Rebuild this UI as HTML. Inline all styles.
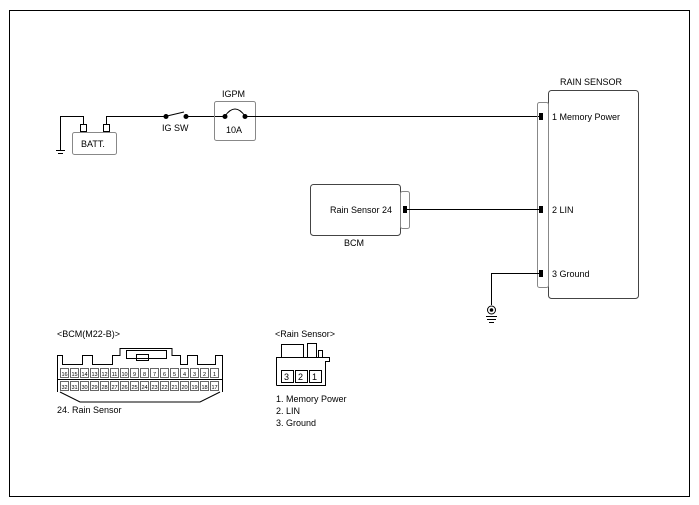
<!DOCTYPE html>
<html><head><style>body{margin:0;background:#fff}svg{display:block}text{font-family:"Liberation Sans",sans-serif;fill:#000}</style></head><body>
<svg width="699" height="505" viewBox="0 0 699 505" xmlns="http://www.w3.org/2000/svg">
<rect x="9.5" y="10.5" width="680" height="486" fill="none" stroke="#000" stroke-width="1"/>
<g stroke="#000" fill="none" stroke-width="1">
<rect x="72.5" y="132.5" width="44" height="22" rx="2" stroke="#888"/>
<rect x="80.5" y="124.5" width="6" height="7"/>
<rect x="103.5" y="124.5" width="6" height="7"/>
<polyline points="83.5,124 83.5,116.5 60.5,116.5 60.5,150"/>
<line x1="56" y1="150.5" x2="65" y2="150.5"/><line x1="58" y1="153.5" x2="63" y2="153.5"/>
<polyline points="106.5,124 106.5,116.5 166,116.5"/>
<line x1="167" y1="116" x2="184" y2="112"/>
<line x1="186" y1="116.5" x2="224" y2="116.5"/>
<rect x="214.5" y="101.5" width="41" height="39" rx="2" stroke="#888"/>
<path d="M225 116 Q235 102 245 116"/>
<line x1="245" y1="116.5" x2="541" y2="116.5"/>
<rect x="548.5" y="90.5" width="90" height="208" rx="3" stroke="#444"/>
<rect x="537.5" y="102.5" width="11" height="185" rx="2" stroke="#888"/>
<rect x="310.5" y="184.5" width="90" height="51" rx="3" stroke="#444"/>
<rect x="400.5" y="191.5" width="9" height="37" rx="2" stroke="#888"/>
<line x1="407" y1="209.5" x2="541" y2="209.5"/>
<polyline points="541,273.5 491.5,273.5 491.5,305"/>
<circle cx="491.5" cy="310" r="4"/>
<line x1="486" y1="316.5" x2="497" y2="316.5"/><line x1="487" y1="319.5" x2="496" y2="319.5"/><line x1="489" y1="322.5" x2="494" y2="322.5"/>
<path d="M57.5 392 L57.5 355.5 L62.5 355.5 L62.5 364.5 L82.5 364.5 L82.5 355.5 L92.5 355.5 L92.5 364.5 L112.5 364.5 L112.5 355.5 L120 355.5 L120 348.5 L172 348.5 L172 355.5 L180.5 355.5 L180.5 364.5 L187.5 364.5 L187.5 355.5 L197.5 355.5 L197.5 364.5 L215.5 364.5 L215.5 355.5 L222.5 355.5 L222.5 392"/>
<path d="M60 392 L80 402 L200 402 L220 392"/>
<rect x="126.5" y="350.5" width="40" height="8"/>
<rect x="136.5" y="354.5" width="12" height="6"/>
<line x1="57" y1="379.5" x2="223" y2="379.5"/>
<path d="M276.5 385.5 L276.5 357.5 L281.5 357.5 L281.5 344.5 L303.5 344.5 L303.5 357.5"/>
<path d="M307.5 357.5 L307.5 343.5 L316.5 343.5 L316.5 357.5"/>
<path d="M318.5 357.5 L318.5 350.5 L322.5 350.5 L322.5 357.5 L329.5 357.5 L329.5 361.5 L325.5 361.5 L325.5 385.5 L276.5 385.5"/>
<line x1="281.5" y1="357.5" x2="325" y2="357.5"/>
<rect x="281.5" y="370.5" width="12" height="12"/><rect x="295.5" y="370.5" width="12" height="12"/><rect x="309.5" y="370.5" width="12" height="12"/>
</g>
<g fill="#000">
<circle cx="166" cy="116.5" r="2.5"/><circle cx="186" cy="116.5" r="2.5"/>
<circle cx="225" cy="116.5" r="2.5"/><circle cx="245" cy="116.5" r="2.5"/>
<circle cx="491.5" cy="310" r="1.8"/>
<rect x="539" y="113" width="4" height="7"/><rect x="539" y="206" width="4" height="7"/><rect x="539" y="270" width="4" height="7"/>
<rect x="403" y="206" width="4" height="7"/>
</g>
<g font-size="9">
<text x="81" y="147">BATT.</text>
<text x="162" y="131">IG SW</text>
<text x="222" y="97">IGPM</text>
<text x="226" y="133">10A</text>
<text x="560" y="85">RAIN SENSOR</text>
<text x="552" y="120">1 Memory Power</text>
<text x="552" y="213">2 LIN</text>
<text x="552" y="277">3 Ground</text>
<text x="330" y="213">Rain Sensor 24</text>
<text x="344" y="246">BCM</text>
<text x="57" y="337">&lt;BCM(M22-B)&gt;</text>
<text x="57" y="413">24. Rain Sensor</text>
<text x="275" y="337">&lt;Rain Sensor&gt;</text>
<text x="276" y="402">1. Memory Power</text>
<text x="276" y="414">2. LIN</text>
<text x="276" y="426">3. Ground</text>
<text x="284" y="380">3</text><text x="298" y="380">2</text><text x="312" y="380">1</text>
</g>
<g stroke="#000" stroke-width="0.6" fill="none">
<rect x="60.5" y="368.5" width="8" height="9"/><rect x="70.5" y="368.5" width="8" height="9"/><rect x="80.5" y="368.5" width="8" height="9"/><rect x="90.5" y="368.5" width="8" height="9"/><rect x="100.5" y="368.5" width="8" height="9"/><rect x="110.5" y="368.5" width="8" height="9"/><rect x="120.5" y="368.5" width="8" height="9"/><rect x="130.5" y="368.5" width="8" height="9"/><rect x="140.5" y="368.5" width="8" height="9"/><rect x="150.5" y="368.5" width="8" height="9"/><rect x="160.5" y="368.5" width="8" height="9"/><rect x="170.5" y="368.5" width="8" height="9"/><rect x="180.5" y="368.5" width="8" height="9"/><rect x="190.5" y="368.5" width="8" height="9"/><rect x="200.5" y="368.5" width="8" height="9"/><rect x="210.5" y="368.5" width="8" height="9"/>
<rect x="60.5" y="381.5" width="8" height="9"/><rect x="70.5" y="381.5" width="8" height="9"/><rect x="80.5" y="381.5" width="8" height="9"/><rect x="90.5" y="381.5" width="8" height="9"/><rect x="100.5" y="381.5" width="8" height="9"/><rect x="110.5" y="381.5" width="8" height="9"/><rect x="120.5" y="381.5" width="8" height="9"/><rect x="130.5" y="381.5" width="8" height="9"/><rect x="140.5" y="381.5" width="8" height="9"/><rect x="150.5" y="381.5" width="8" height="9"/><rect x="160.5" y="381.5" width="8" height="9"/><rect x="170.5" y="381.5" width="8" height="9"/><rect x="180.5" y="381.5" width="8" height="9"/><rect x="190.5" y="381.5" width="8" height="9"/><rect x="200.5" y="381.5" width="8" height="9"/><rect x="210.5" y="381.5" width="8" height="9"/>
</g>
<g font-size="5.5" text-anchor="middle">
<text x="64.5" y="376">16</text><text x="74.5" y="376">15</text><text x="84.5" y="376">14</text><text x="94.5" y="376">13</text><text x="104.5" y="376">12</text><text x="114.5" y="376">11</text><text x="124.5" y="376">10</text><text x="134.5" y="376">9</text><text x="144.5" y="376">8</text><text x="154.5" y="376">7</text><text x="164.5" y="376">6</text><text x="174.5" y="376">5</text><text x="184.5" y="376">4</text><text x="194.5" y="376">3</text><text x="204.5" y="376">2</text><text x="214.5" y="376">1</text>
<text x="64.5" y="389">32</text><text x="74.5" y="389">31</text><text x="84.5" y="389">30</text><text x="94.5" y="389">29</text><text x="104.5" y="389">28</text><text x="114.5" y="389">27</text><text x="124.5" y="389">26</text><text x="134.5" y="389">25</text><text x="144.5" y="389">24</text><text x="154.5" y="389">23</text><text x="164.5" y="389">22</text><text x="174.5" y="389">21</text><text x="184.5" y="389">20</text><text x="194.5" y="389">19</text><text x="204.5" y="389">18</text><text x="214.5" y="389">17</text>
</g>
</svg>
</body></html>
